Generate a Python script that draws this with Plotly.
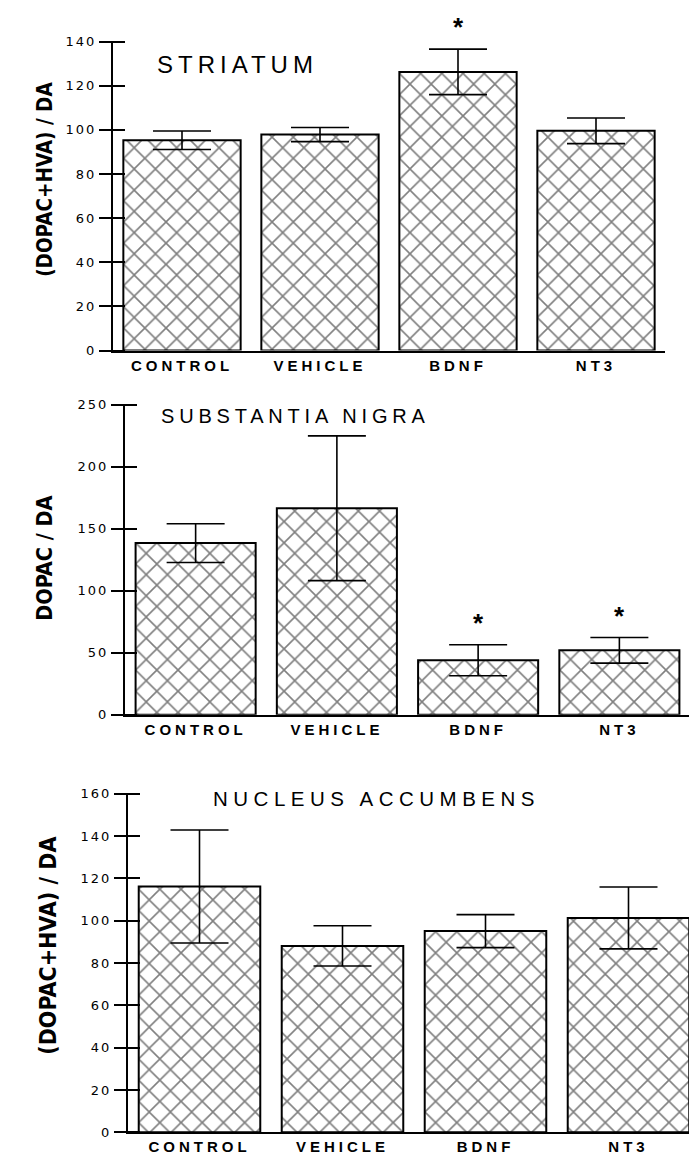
import plotly.graph_objects as go

# ---------------- data ----------------
categories = ["CONTROL", "VEHICLE", "BDNF", "NT3"]

striatum_mean = [95.3, 97.9, 126.3, 99.6]
striatum_sem = [4.2, 3.2, 10.3, 5.8]
striatum_sig = [False, False, True, False]

nigra_mean = [138.5, 166.6, 44.0, 52.0]
nigra_sem = [15.6, 58.4, 12.5, 10.3]
nigra_sig = [False, False, True, True]

accumbens_mean = [116.2, 88.1, 95.1, 101.3]
accumbens_sem = [26.7, 9.5, 7.8, 14.6]
accumbens_sig = [False, False, False, False]

titles = ["STRIATUM", "SUBSTANTIA NIGRA", "NUCLEUS ACCUMBENS"]
ytitles = ["(DOPAC+HVA) / DA", "DOPAC / DA", "(DOPAC+HVA) / DA"]
y_ranges = [[0, 140], [0, 250], [0, 160]]
y_ticks = [[0, 20, 40, 60, 80, 100, 120, 140],
           [0, 50, 100, 150, 200, 250],
           [0, 20, 40, 60, 80, 100, 120, 140, 160]]

# ---------------- layout geometry (pixels) ----------------
W, H = 697, 1156
panels_px = [  # x0, x1, ytop, ybottom
    (105, 657, 27, 340),
    (117, 682, 395, 709),
    (120, 692, 789, 1132),
]
title_pos = [(229, 50, 24, 5), (287, 406, 20, 4.8), (368, 794, 20.5, 5.5)]
ytitle_pos = [(37, 167, 20.5), (37, 551, 21.5), (40, 943, 23)]
TICK_HALF = 12

means = [striatum_mean, nigra_mean, accumbens_mean]
sems = [striatum_sem, nigra_sem, accumbens_sem]
sigs = [striatum_sig, nigra_sig, accumbens_sig]

fig = go.Figure()
annotations = []
layout_axes = {}

def sp(text, px):
    return f'<span style="letter-spacing:{px}px">{text}</span>'

for i in range(3):
    n = i + 1
    xa = "x" if n == 1 else f"x{n}"
    ya = "y" if n == 1 else f"y{n}"
    ya2 = f"y{n + 3}"
    x0, x1, yt, yb = panels_px[i]

    fig.add_trace(go.Bar(
        x=categories, y=means[i],
        width=0.85,
        marker=dict(color="white",
                    line=dict(color="black", width=2),
                    pattern=dict(shape="x", size=15, solidity=0.2,
                                 fgcolor="black", bgcolor="white",
                                 fillmode="overlay")),
        error_y=dict(type="data", array=sems[i], visible=True,
                     color="black", thickness=1.6, width=29),
        xaxis=xa, yaxis=ya, showlegend=False,
    ))
    # invisible trace hosting the crossing-tick overlay axis
    fig.add_trace(go.Scatter(
        x=categories, y=means[i], mode="markers",
        marker=dict(opacity=0), xaxis=xa, yaxis=ya2,
        showlegend=False, hoverinfo="skip",
    ))

    xkey = "xaxis" if n == 1 else f"xaxis{n}"
    ykey = "yaxis" if n == 1 else f"yaxis{n}"
    layout_axes[xkey] = dict(
        domain=[x0 / W, x1 / W], anchor=ya,
        range=[-0.5, 3.5], showline=True, linecolor="black", linewidth=2,
        ticks="", showgrid=False, zeroline=False,
        tickmode="array", tickvals=categories,
        ticktext=[sp(c, 4) for c in categories],
        tickfont=dict(family="Liberation Sans, Arial, sans-serif",
                      size=15, color="black", weight="bold"),
        fixedrange=True,
    )
    layout_axes[ykey] = dict(
        domain=[1 - yb / H, 1 - yt / H], anchor=xa,
        range=y_ranges[i], showline=True, linecolor="black", linewidth=2,
        ticks="outside", ticklen=TICK_HALF, tickwidth=1.5, tickcolor="black",
        showgrid=False, zeroline=False,
        tickmode="array", tickvals=y_ticks[i],
        ticktext=[sp(str(v), 2) for v in y_ticks[i]],
        tickfont=dict(family="DejaVu Sans, sans-serif", size=13, color="black"),
        fixedrange=True,
    )
    # overlay axis shifted right so its ticks cross the main axis line
    layout_axes[f"yaxis{n + 3}"] = dict(
        overlaying=ya, anchor="free", position=(x0 + TICK_HALF) / W,
        side="left", range=y_ranges[i], showline=False,
        ticks="outside", ticklen=2 * TICK_HALF, tickwidth=1.5, tickcolor="black",
        tickmode="array", tickvals=y_ticks[i], showticklabels=False,
        showgrid=False, zeroline=False, fixedrange=True,
    )

    tx, ty, tsz, tls = title_pos[i]
    annotations.append(dict(
        text=sp(titles[i], tls), xref="paper", yref="paper",
        x=tx / W, y=1 - ty / H, xanchor="center", yanchor="middle",
        showarrow=False,
        font=dict(family="Liberation Sans, Arial, sans-serif", size=tsz, color="black"),
    ))
    yx, yy, ysz = ytitle_pos[i]
    annotations.append(dict(
        text=ytitles[i], xref="paper", yref="paper",
        x=yx / W, y=1 - yy / H, xanchor="center", yanchor="middle",
        textangle=-90, showarrow=False,
        font=dict(family="Liberation Sans Narrow, DejaVu Sans Condensed, sans-serif",
                  size=ysz, color="black", weight="bold"),
    ))
    for c, m, s, g in zip(categories, means[i], sems[i], sigs[i]):
        if g:
            annotations.append(dict(
                text="*", x=c, y=m + s, xref=xa, yref=ya,
                xanchor="center", yanchor="middle", yshift=22,
                showarrow=False,
                font=dict(family="Liberation Sans, Arial, sans-serif",
                          size=26, color="black", weight="bold"),
            ))

fig.update_layout(
    width=W, height=H,
    margin=dict(l=0, r=0, t=0, b=0),
    paper_bgcolor="white", plot_bgcolor="white",
    bargap=0.15,
    annotations=annotations,
    **layout_axes,
)

fig.write_html("out.html")
